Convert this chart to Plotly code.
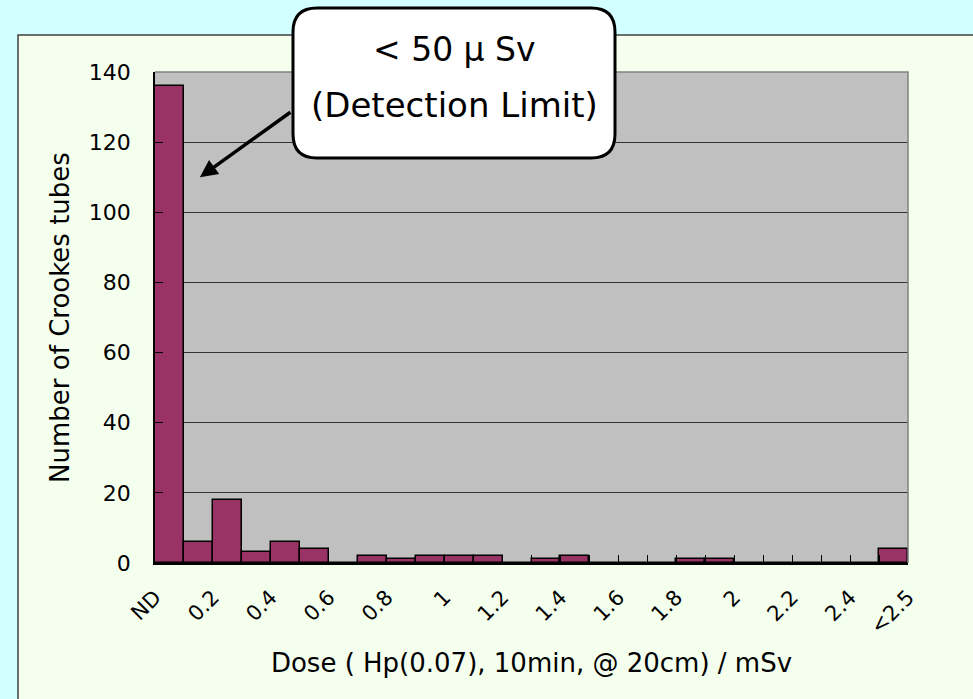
import numpy as np
import plotly.graph_objects as go

# ---- data ----
bin_index = list(range(26))
counts = [136, 6, 18, 3, 6, 4, 0, 2, 1, 2, 2, 2, 0, 1, 2, 0, 0, 0, 1, 1, 0, 0, 0, 0, 0, 4]
tick_labels = ["ND", "0.2", "0.4", "0.6", "0.8", "1", "1.2", "1.4", "1.6", "1.8",
               "2", "2.2", "2.4", "&lt;2.5"]
y_ticks = [0, 20, 40, 60, 80, 100, 120, 140]
x_title = "Dose ( Hp(0.07), 10min, @ 20cm) / mSv"
y_title = "Number of Crookes tubes"
note_line1 = "&lt; 50 μ Sv"
note_line2 = "(Detection Limit)"

FONT = "DejaVu Sans"

centers = np.array(bin_index) + 0.5
tickvals = list(range(len(bin_index) + 1))
ticktext = []
for k in tickvals:
    ticktext.append(tick_labels[k // 2] if k % 2 == 0 else "")

fig = go.Figure()
fig.add_trace(go.Bar(
    x=centers, y=counts, width=1,
    marker=dict(color="#993366", line=dict(color="black", width=1.5)),
    showlegend=False, hoverinfo="skip",
))

W, H = 973, 699
L, R, T, B = 155, 65, 72, 136
pw, ph = W - L - R, H - T - B


def px(xp):
    return (xp - L) / pw


def py(yp):
    return (H - B - yp) / ph


fig.update_layout(
    width=W, height=H,
    margin=dict(l=L, r=R, t=T, b=B, autoexpand=False),
    paper_bgcolor="#D2FFFF",
    plot_bgcolor="#C0C0C0",
    font=dict(family=FONT, color="black", size=22),
    bargap=0,
    xaxis=dict(
        range=[0, 26], tickmode="array", tickvals=tickvals, ticktext=ticktext,
        tickangle=-45, ticks="inside", ticklen=8, tickcolor="black",
        showline=True, linecolor="black", linewidth=1.5,
        showgrid=False, zeroline=False,
        tickfont=dict(size=21), ticklabelstandoff=12,
        title=dict(text=x_title, font=dict(size=26), standoff=16),
    ),
    yaxis=dict(
        range=[0, 140], tickmode="array", tickvals=y_ticks,
        ticks="inside", ticklen=8, tickcolor="black",
        showline=True, linecolor="black", linewidth=1.5,
        showgrid=True, gridcolor="#333333", gridwidth=1, zeroline=False,
        tickfont=dict(size=22), ticklabelstandoff=18,
        title=dict(text=y_title, font=dict(size=26), standoff=12),
    ),
)

# outer light-green panel
fig.add_shape(type="rect", xref="paper", yref="paper",
              x0=px(18), x1=px(990), y0=py(720), y1=py(35),
              fillcolor="#F5FFEE", line=dict(color="#404040", width=1.5),
              layer="below")
# grey plot area (drawn over the panel)
fig.add_shape(type="rect", xref="paper", yref="paper",
              x0=0, x1=1, y0=0, y1=1,
              fillcolor="#C0C0C0", line=dict(width=0), layer="below")
# plot area right / top border
fig.add_shape(type="path", xref="paper", yref="paper",
              path="M 0,1 L 1,1 L 1,0", line=dict(color="#808080", width=1.5),
              layer="above")

# rounded call-out box
x0, x1 = px(293), px(615)
y0, y1 = py(158), py(8)
rx, ry = 24 / pw, 24 / ph
path = (f"M {x0+rx},{y1} L {x1-rx},{y1} Q {x1},{y1} {x1},{y1-ry} "
        f"L {x1},{y0+ry} Q {x1},{y0} {x1-rx},{y0} L {x0+rx},{y0} "
        f"Q {x0},{y0} {x0},{y0+ry} L {x0},{y1-ry} Q {x0},{y1} {x0+rx},{y1} Z")
fig.add_shape(type="path", xref="paper", yref="paper", path=path,
              fillcolor="white", line=dict(color="black", width=3), layer="above")

fig.add_annotation(xref="paper", yref="paper", x=px(454), y=py(50),
                   xanchor="center", yanchor="middle",
                   text=note_line1, showarrow=False,
                   font=dict(size=33, family=FONT, color="black"))
fig.add_annotation(xref="paper", yref="paper", x=px(454), y=py(105),
                   xanchor="center", yanchor="middle",
                   text=note_line2, showarrow=False,
                   font=dict(size=34, family=FONT, color="black"))

# arrow pointing to ND bar
fig.add_annotation(x=1.55, y=110, xref="x", yref="y", text="",
                   showarrow=True, arrowhead=2, arrowsize=1, arrowwidth=3.5,
                   arrowcolor="black", ax=92, ay=-66, standoff=0)

fig.write_html(
    "out.html",
    config={"displayModeBar": False},
    post_script="document.body.style.margin='0';"
                "document.body.style.background='#D2FFFF';",
)
